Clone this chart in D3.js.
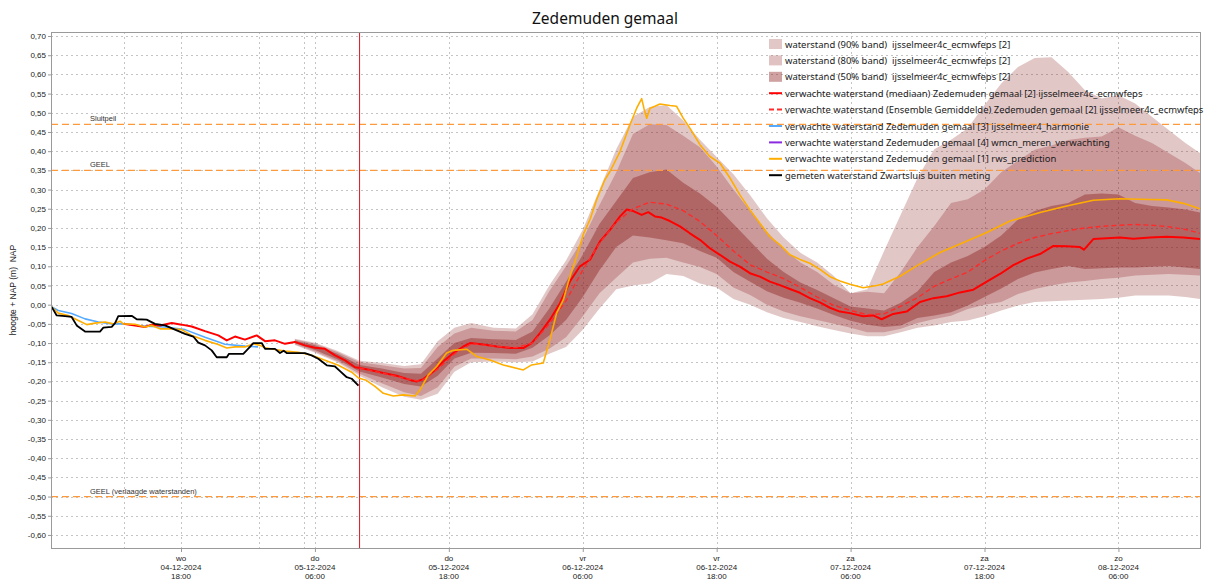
<!DOCTYPE html>
<html><head><meta charset="utf-8">
<script src="https://cdn.jsdelivr.net/npm/d3@7"></script>
<style>body{margin:0;background:#fff}svg{display:block}text{white-space:pre}</style>
</head><body>
<svg id="chart" width="1211" height="581"></svg>
<script>
// ---------- DATA (hours since 2024-12-04 00:00) ----------
const titleText = "Zedemuden gemaal";
const yAxisLabel = "hoogte + NAP (m)  NAP";
const yTicks = [-0.60,-0.55,-0.50,-0.45,-0.40,-0.35,-0.30,-0.25,-0.20,-0.15,-0.10,-0.05,0.00,0.05,0.10,0.15,0.20,0.25,0.30,0.35,0.40,0.45,0.50,0.55,0.60,0.65,0.70];
const xTickHours = [18, 30, 42, 54, 66, 78, 90, 102];
const xTickDays = ["wo","do","do","vr","vr","za","za","zo"];
const xTickDates = ["04-12-2024","05-12-2024","05-12-2024","06-12-2024","06-12-2024","07-12-2024","07-12-2024","08-12-2024"];
const xTickTimes = ["18:00","06:00","18:00","06:00","18:00","06:00","18:00","06:00"];
const markerHours = [12.92, 25.0, 29.0];
const nowHour = 34.0;
const thresholdNames = ["Sluitpeil","GEEL","GEEL (verlaagde waterstanden)"];
const thresholdValues = [0.47, 0.35, -0.50];

const bandHours = [28.2,30,32,34,36,38,39.5,41,42.5,44,46,48,49.5,51,52.5,54,55.5,57,58.5,60,61.5,63,64.5,66,67.5,69,70.5,72,73.5,75,76.5,78,79.5,81,82.5,84,85.5,87,88.5,90,91.5,93,94.5,96,97.5,99,100.5,102,103.5,105,106.5,108,109.31];
const band90Low  = [-0.105,-0.125,-0.150,-0.185,-0.215,-0.240,-0.248,-0.232,-0.175,-0.150,-0.148,-0.150,-0.148,-0.128,-0.110,-0.065,-0.010,0.040,0.050,0.055,0.080,0.075,0.055,0.045,0.015,0.000,-0.020,-0.035,-0.045,-0.056,-0.066,-0.075,-0.082,-0.082,-0.072,-0.060,-0.054,-0.045,-0.041,-0.030,-0.015,-0.002,0.007,0.009,0.011,0.013,0.015,0.018,0.024,0.024,0.024,0.020,0.015];
const band80Low  = [-0.103,-0.122,-0.147,-0.180,-0.205,-0.228,-0.238,-0.215,-0.162,-0.140,-0.140,-0.142,-0.135,-0.115,-0.085,-0.030,0.030,0.070,0.110,0.120,0.122,0.110,0.098,0.080,0.045,0.025,0.000,-0.018,-0.030,-0.040,-0.050,-0.060,-0.072,-0.072,-0.063,-0.048,-0.037,-0.029,-0.011,0.000,0.007,0.028,0.041,0.050,0.058,0.062,0.067,0.070,0.076,0.078,0.080,0.078,0.076];
const band50Low  = [-0.100,-0.118,-0.142,-0.174,-0.190,-0.207,-0.213,-0.185,-0.140,-0.125,-0.126,-0.128,-0.112,-0.080,-0.040,0.020,0.090,0.150,0.180,0.175,0.168,0.160,0.140,0.122,0.085,0.060,0.035,0.018,0.005,-0.010,-0.027,-0.042,-0.052,-0.058,-0.054,-0.035,-0.028,-0.020,-0.002,0.020,0.042,0.067,0.084,0.093,0.101,0.093,0.095,0.097,0.097,0.099,0.101,0.097,0.093];
const band50High = [-0.094,-0.106,-0.128,-0.157,-0.166,-0.178,-0.180,-0.140,-0.100,-0.087,-0.090,-0.092,-0.070,-0.010,0.060,0.130,0.210,0.270,0.330,0.345,0.352,0.318,0.290,0.255,0.210,0.165,0.120,0.085,0.058,0.038,0.017,-0.005,-0.010,-0.015,0.005,0.035,0.085,0.110,0.127,0.150,0.180,0.222,0.244,0.257,0.265,0.287,0.290,0.287,0.265,0.257,0.253,0.248,0.240];
const band80High = [-0.091,-0.102,-0.123,-0.150,-0.158,-0.166,-0.165,-0.110,-0.075,-0.060,-0.068,-0.070,-0.040,0.035,0.100,0.170,0.260,0.345,0.445,0.470,0.468,0.440,0.410,0.360,0.300,0.245,0.190,0.145,0.110,0.085,0.052,0.030,0.034,0.030,0.085,0.150,0.205,0.265,0.275,0.300,0.345,0.375,0.404,0.415,0.429,0.435,0.438,0.462,0.440,0.421,0.395,0.369,0.343];
const band90High = [-0.089,-0.099,-0.120,-0.146,-0.152,-0.160,-0.155,-0.095,-0.060,-0.048,-0.060,-0.062,-0.025,0.050,0.115,0.195,0.300,0.405,0.490,0.515,0.520,0.480,0.430,0.385,0.340,0.285,0.225,0.175,0.135,0.110,0.075,0.030,0.040,0.140,0.235,0.330,0.405,0.430,0.460,0.520,0.576,0.619,0.643,0.645,0.606,0.559,0.537,0.546,0.524,0.490,0.455,0.421,0.395];

const medianSeries = [[12.83,-0.050],[13.88,-0.054],[14.77,-0.058],[15.37,-0.052],[16.12,-0.054],[17.17,-0.048],[18.06,-0.052],[18.96,-0.057],[20.15,-0.069],[21.34,-0.080],[22.1,-0.093],[22.84,-0.083],[23.73,-0.091],[24.78,-0.080],[25.53,-0.095],[26.42,-0.093],[27.32,-0.102],[28.2,-0.097],[29.1,-0.106],[30.0,-0.112],[30.9,-0.115],[31.8,-0.132],[32.7,-0.145],[33.6,-0.163],[34.04,-0.165],[34.94,-0.170],[36.13,-0.178],[37.33,-0.185],[38.52,-0.196],[39.12,-0.200],[39.71,-0.194],[40.61,-0.174],[41.5,-0.148],[42.4,-0.126],[43.3,-0.109],[43.9,-0.100],[45.09,-0.104],[46.29,-0.109],[47.48,-0.113],[48.67,-0.113],[49.42,-0.100],[50.17,-0.074],[51.06,-0.039],[51.96,0.004],[52.86,0.061],[53.75,0.100],[54.65,0.117],[55.54,0.165],[56.44,0.195],[57.34,0.230],[57.94,0.248],[58.53,0.244],[59.28,0.234],[59.87,0.241],[60.47,0.230],[61.07,0.227],[61.81,0.218],[62.71,0.204],[63.6,0.186],[64.5,0.169],[65.39,0.147],[66.29,0.130],[67.19,0.112],[68.08,0.099],[68.98,0.082],[69.87,0.073],[70.77,0.060],[71.67,0.051],[72.56,0.041],[73.46,0.031],[74.35,0.017],[75.25,0.006],[76.15,-0.008],[77.04,-0.018],[77.94,-0.022],[79.13,-0.030],[80.03,-0.028],[80.78,-0.038],[81.82,-0.024],[83.02,-0.018],[84.22,0.007],[85.41,0.017],[86.61,0.022],[87.81,0.032],[89.0,0.039],[90.2,0.060],[91.39,0.080],[92.58,0.103],[93.78,0.120],[94.97,0.132],[96.17,0.153],[97.36,0.152],[98.56,0.150],[98.9,0.143],[99.75,0.171],[100.95,0.173],[102.14,0.175],[103.34,0.172],[104.83,0.175],[106.33,0.177],[107.82,0.175],[109.31,0.171]];

const meanSeries = [[34,-0.165],[36,-0.178],[38,-0.192],[39.5,-0.200],[41,-0.168],[42.5,-0.128],[44,-0.102],[46,-0.108],[48,-0.112],[49.5,-0.100],[51,-0.050],[52.5,0.010],[54,0.090],[55.5,0.160],[57,0.215],[58.5,0.250],[60,0.267],[61.5,0.262],[63,0.245],[64.5,0.217],[66,0.180],[67.5,0.140],[69,0.104],[70.5,0.085],[72,0.068],[73.5,0.045],[75,0.020],[76.5,-0.002],[78,-0.015],[79.5,-0.026],[81,-0.024],[82.5,-0.004],[84,0.018],[85.5,0.048],[87,0.067],[88.5,0.085],[90,0.115],[91.5,0.140],[93,0.160],[94.5,0.175],[96,0.185],[97.5,0.193],[99,0.200],[100.5,0.204],[102,0.207],[103.5,0.209],[105,0.207],[106.5,0.203],[108,0.196],[109.31,0.186]];

const harmonieSeries = [[6.41,-0.006],[7.0,-0.015],[8.2,-0.023],[9.4,-0.037],[10.6,-0.045],[11.79,-0.050],[12.98,-0.050],[14.77,-0.056],[16.57,-0.058],[18.36,-0.065],[20.15,-0.085],[21.94,-0.103],[23.73,-0.108],[24.9,-0.110]];

const wmcnSeries = [];

const rwsSeries = [[6.41,-0.006],[7.0,-0.022],[7.9,-0.028],[8.8,-0.041],[9.56,-0.052],[10.3,-0.048],[11.19,-0.045],[11.93,-0.050],[12.53,-0.043],[12.83,-0.050],[13.88,-0.051],[14.77,-0.058],[15.37,-0.054],[16.12,-0.063],[17.17,-0.063],[18.06,-0.065],[18.96,-0.080],[20.15,-0.093],[21.34,-0.104],[22.1,-0.113],[22.84,-0.110],[23.73,-0.110],[24.48,-0.102],[25.08,-0.106],[25.53,-0.112],[26.42,-0.117],[27.32,-0.121],[28.5,-0.124],[29.7,-0.132],[30.9,-0.145],[32.1,-0.158],[33.3,-0.176],[33.9,-0.191],[34.6,-0.197],[35.38,-0.213],[36.13,-0.231],[37.02,-0.238],[37.92,-0.235],[38.97,-0.238],[39.42,-0.222],[40.16,-0.183],[40.91,-0.161],[41.8,-0.126],[42.4,-0.119],[43.6,-0.116],[44.5,-0.135],[45.69,-0.144],[46.88,-0.157],[48.67,-0.170],[49.42,-0.157],[50.46,-0.152],[51.06,-0.091],[51.66,-0.022],[52.26,0.013],[52.86,0.074],[53.46,0.126],[54.05,0.183],[54.65,0.222],[55.25,0.274],[55.99,0.326],[56.44,0.347],[57.34,0.399],[58.23,0.469],[58.83,0.512],[59.28,0.537],[59.48,0.512],[59.73,0.486],[60.03,0.512],[60.47,0.517],[60.92,0.523],[61.81,0.519],[62.41,0.517],[63.0,0.486],[63.6,0.460],[64.5,0.417],[65.39,0.386],[66.29,0.369],[67.19,0.330],[68.08,0.286],[68.98,0.247],[69.87,0.212],[70.77,0.177],[71.67,0.156],[72.56,0.130],[73.46,0.118],[74.35,0.108],[75.25,0.092],[76.15,0.073],[77.04,0.062],[77.94,0.053],[79.13,0.044],[80.33,0.050],[80.92,0.054],[82.43,0.074],[83.92,0.101],[86.01,0.136],[87.81,0.158],[90.2,0.188],[92.29,0.218],[94.97,0.240],[97.36,0.257],[99.75,0.272],[102.14,0.276],[104.83,0.274],[106.33,0.273],[107.82,0.264],[109.31,0.250]];

const observedSeries = [[6.41,-0.006],[6.86,-0.028],[7.6,-0.030],[8.2,-0.032],[8.65,-0.054],[9.4,-0.070],[10.74,-0.070],[11.04,-0.060],[11.79,-0.058],[12.09,-0.048],[12.38,-0.030],[13.58,-0.029],[14.03,-0.038],[14.92,-0.039],[15.67,-0.050],[16.57,-0.054],[17.46,-0.065],[18.36,-0.076],[19.1,-0.083],[19.55,-0.099],[20.15,-0.106],[20.75,-0.119],[21.2,-0.137],[22.1,-0.137],[22.3,-0.128],[23.58,-0.128],[24.18,-0.110],[24.48,-0.100],[25.23,-0.100],[25.53,-0.115],[26.42,-0.115],[26.87,-0.126],[27.2,-0.120],[27.47,-0.126],[29.1,-0.126],[29.7,-0.132],[30.3,-0.141],[31.06,-0.158],[31.8,-0.161],[32.25,-0.173],[32.85,-0.189],[33.3,-0.193],[33.9,-0.211]];

const legendLabels = [
  "waterstand (90% band)  ijsselmeer4c_ecmwfeps [2]",
  "waterstand (80% band)  ijsselmeer4c_ecmwfeps [2]",
  "waterstand (50% band)  ijsselmeer4c_ecmwfeps [2]",
  "verwachte waterstand (mediaan) Zedemuden gemaal [2] ijsselmeer4c_ecmwfeps",
  "verwachte waterstand (Ensemble Gemiddelde) Zedemuden gemaal [2] ijsselmeer4c_ecmwfeps",
  "verwachte waterstand Zedemuden gemaal [3] ijsselmeer4_harmonie",
  "verwachte waterstand Zedemuden gemaal [4] wmcn_meren_verwachting",
  "verwachte waterstand Zedemuden gemaal [1] rws_prediction",
  "gemeten waterstand Zwartsluis buiten meting"
];

// ---------- RENDER ----------
const BASE = Date.UTC(2024, 11, 4, 0, 0);
const toDate = h => new Date(BASE + h * 3600e3);
const M = {left: 51, right: 1200, top: 32, bottom: 548};
const svg = d3.select("#chart");
const x = d3.scaleUtc().domain([toDate(6.35), toDate(109.31)]).range([M.left, M.right]);
const y = d3.scaleLinear().domain([-0.634, 0.7105]).range([M.bottom, M.top]);
const nl = d3.formatLocale({decimal: ",", thousands: ".", grouping: [3], currency: ["€", ""], minus: "-"});
const fmt = nl.format(".2f");

const bandColor = "rgb(140,30,30)";
const C = {median: "#ff0000", mean: "#ff2a2a", harm: "#55aaff", wmcn: "#8a2be2", rws: "#ffae00", obs: "#000000", thr: "#ff9a3c", grid: "#c4c4c4", axis: "#9a9a9a"};
const FONT = "'Liberation Sans', Arial, sans-serif";
const LFONT = "'Noto Sans', 'Open Sans', sans-serif";

svg.append("defs").append("clipPath").attr("id", "clip")
  .append("rect").attr("x", M.left).attr("y", M.top).attr("width", M.right - M.left).attr("height", M.bottom - M.top);

// title
svg.append("text").attr("x", 605).attr("y", 24).attr("text-anchor", "middle")
  .attr("font-family", LFONT).attr("font-size", 15.5).attr("fill", "#111").text(titleText);

// grid
const grid = svg.append("g");
grid.selectAll("line.h").data(yTicks).join("line")
  .attr("x1", M.left).attr("x2", M.right).attr("y1", d => Math.round(y(d)) + 0.5).attr("y2", d => Math.round(y(d)) + 0.5)
  .attr("stroke", C.grid).attr("stroke-dasharray", "2,3");
grid.selectAll("line.v").data(xTickHours.concat(markerHours)).join("line")
  .attr("y1", M.top).attr("y2", M.bottom).attr("x1", d => Math.round(x(toDate(d))) + 0.5).attr("x2", d => Math.round(x(toDate(d))) + 0.5)
  .attr("stroke", C.grid).attr("stroke-dasharray", "2,3");

const plot = svg.append("g").attr("clip-path", "url(#clip)");

// bands
const bandRows = bandHours.map((h, i) => ({h, l90: band90Low[i], h90: band90High[i], l80: band80Low[i], h80: band80High[i], l50: band50Low[i], h50: band50High[i]}));
const bands = [["l90", "h90", 0.25], ["l80", "h80", 0.27], ["l50", "h50", 0.42]];
bands.forEach(([lo, hi, op]) => {
  plot.append("path").datum(bandRows)
    .attr("d", d3.area().x(d => x(toDate(d.h))).y0(d => y(d[lo])).y1(d => y(d[hi])))
    .attr("fill", bandColor).attr("fill-opacity", op);
});

// thresholds
thresholdValues.forEach((v, i) => {
  plot.append("line").attr("x1", M.left).attr("x2", M.right).attr("y1", y(v)).attr("y2", y(v))
    .attr("stroke", C.thr).attr("stroke-width", 1.2).attr("stroke-dasharray", "7,4");
  svg.append("text").attr("x", 90).attr("y", y(v) - 3).attr("font-family", FONT).attr("font-size", 7.5)
    .attr("fill", "#333").text(thresholdNames[i]);
});

// now line
plot.append("line").attr("x1", x(toDate(nowHour))).attr("x2", x(toDate(nowHour))).attr("y1", M.top).attr("y2", M.bottom)
  .attr("stroke", "#e0141e").attr("stroke-width", 1);

// lines
const line = d3.line().x(d => x(toDate(d[0]))).y(d => y(d[1]));
function drawLine(data, color, w, dash) {
  const p = plot.append("path").datum(data).attr("d", line).attr("fill", "none")
    .attr("stroke", color).attr("stroke-width", w).attr("stroke-linejoin", "round");
  if (dash) p.attr("stroke-dasharray", dash);
}
drawLine(harmonieSeries, C.harm, 1.6);
if (wmcnSeries.length) drawLine(wmcnSeries, C.wmcn, 1.6);
drawLine(medianSeries, C.median, 2);
drawLine(meanSeries, C.mean, 1.4, "5,3");
drawLine(rwsSeries, C.rws, 1.6);
drawLine(observedSeries, C.obs, 1.8);

// axes frame
svg.append("rect").attr("x", M.left + 0.5).attr("y", M.top + 0.5).attr("width", M.right - M.left).attr("height", M.bottom - M.top)
  .attr("fill", "none").attr("stroke", C.axis);

const yAxis = svg.append("g").attr("transform", `translate(${M.left},0)`)
  .call(d3.axisLeft(y).tickValues(yTicks).tickSize(3).tickPadding(2).tickFormat(d => fmt(d)));
yAxis.select(".domain").remove();
yAxis.selectAll("line").attr("stroke", C.axis);
yAxis.selectAll("text").attr("font-family", FONT).attr("font-size", 8).attr("fill", "#222");

const xAxis = svg.append("g").attr("transform", `translate(0,${M.bottom})`)
  .call(d3.axisBottom(x).tickValues(xTickHours.map(toDate)).tickSize(4).tickFormat(""));
xAxis.select(".domain").remove();
xAxis.selectAll("line").attr("stroke", C.axis);
const xl = svg.append("g");
xTickHours.forEach((h, i) => {
  const t = xl.append("text").attr("x", x(toDate(h))).attr("y", 561).attr("text-anchor", "middle")
    .attr("font-family", FONT).attr("font-size", 8).attr("fill", "#222");
  t.append("tspan").attr("x", x(toDate(h))).attr("dy", 0).text(xTickDays[i]);
  t.append("tspan").attr("x", x(toDate(h))).attr("dy", 9).text(xTickDates[i]);
  t.append("tspan").attr("x", x(toDate(h))).attr("dy", 9).text(xTickTimes[i]);
});

// y label
svg.append("text").attr("transform", "translate(16,290) rotate(-90)").attr("text-anchor", "middle")
  .attr("font-family", FONT).attr("font-size", 8.5).attr("fill", "#222").text(yAxisLabel);

// legend
const lg = svg.append("g");
const legendKinds = [
  {type: "rect", op: 0.25}, {type: "rect", op: 0.27}, {type: "rect", op: 0.42},
  {type: "line", color: C.median}, {type: "line", color: C.mean, dash: "5,3"},
  {type: "line", color: C.harm}, {type: "line", color: C.wmcn}, {type: "line", color: C.rws}, {type: "line", color: C.obs}
];
legendLabels.forEach((lab, i) => {
  const cy = 44 + i * 16.4;
  const k = legendKinds[i];
  if (k.type === "rect") {
    lg.append("rect").attr("x", 769).attr("y", cy - 5).attr("width", 13).attr("height", 10)
      .attr("fill", bandColor).attr("fill-opacity", k.op);
  } else {
    const l = lg.append("line").attr("x1", 769).attr("x2", 782).attr("y1", cy).attr("y2", cy)
      .attr("stroke", k.color).attr("stroke-width", 2);
    if (k.dash) l.attr("stroke-dasharray", k.dash);
  }
  lg.append("text").attr("x", 785).attr("y", cy + 3.5).attr("font-family", LFONT).attr("font-size", 9.45)
    .attr("fill", "#1a1a1a").text(lab);
});
</script>
</body></html>
